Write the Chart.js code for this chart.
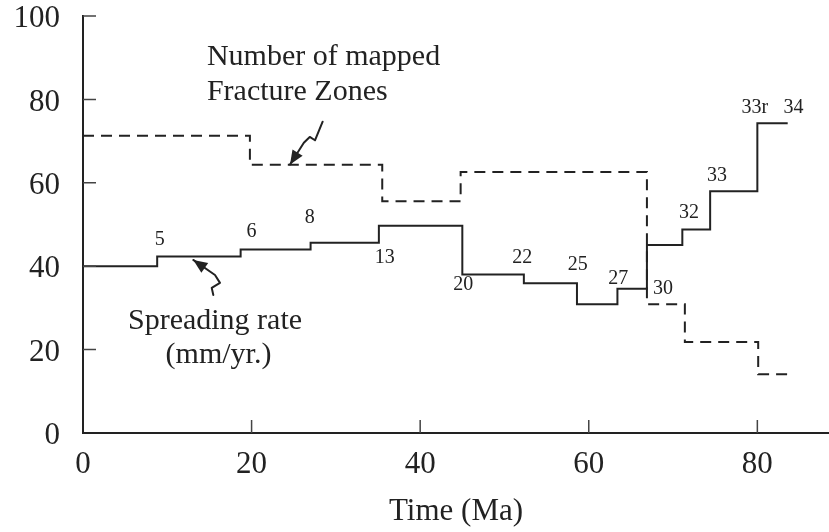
<!DOCTYPE html>
<html>
<head>
<meta charset="utf-8">
<script src="https://cdn.jsdelivr.net/npm/chart.js@4.4.1/dist/chart.umd.min.js"></script>
<style>
  html, body { margin: 0; padding: 0; background: #fff; }
  #wrap { width: 829px; height: 532px; }
</style>
</head>
<body>
<div id="wrap"><canvas id="rateChart"></canvas></div>
<script>
// spreading rate history (mm/yr) - each value holds until the next age
const rateAges = [0, 8.8, 18.7, 27.0, 35.1, 45.0, 52.3, 58.6, 63.4, 66.9, 71.1, 74.4, 80.0, 83.6];
const rateValues = [40, 42.3, 44.0, 45.6, 49.7, 38.0, 35.9, 30.9, 34.6, 45.1, 48.8, 58.0, 74.3, 74.3];

// number of mapped fracture zones
const fzAges = [0, 19.8, 35.5, 44.8, 66.9, 71.4, 80.1, 84.3];
const fzCounts = [71.3, 64.3, 55.6, 62.6, 30.9, 21.8, 14.1, 14.1];

const xTicks = [0, 20, 40, 60, 80];
const yTicks = [0, 20, 40, 60, 80, 100];

// magnetic anomaly (chron) labels along the rate curve
const chronNames = ['5', '6', '8', '13', '20', '22', '25', '27', '30', '32', '33', '33r', '34'];
const chronAges = [9.1, 20.0, 26.9, 35.8, 45.1, 52.1, 58.7, 63.5, 68.8, 71.9, 75.2, 79.7, 84.3];
const chronRates = [46.3, 48.2, 51.6, 42.0, 35.5, 42.0, 40.3, 36.9, 34.5, 52.8, 61.6, 77.9, 77.9];

const serif = '"Liberation Serif", "Times New Roman", Times, serif';
const ink = '#222';

function toPoints(xs, ys) {
  return xs.map((a, i) => ({ x: a, y: ys[i] }));
}

function arrow(ctx, pts) {
  ctx.beginPath();
  ctx.moveTo(pts[0][0], pts[0][1]);
  for (let i = 1; i < pts.length; i++) ctx.lineTo(pts[i][0], pts[i][1]);
  ctx.stroke();
  const tip = pts[pts.length - 1], prev = pts[pts.length - 2];
  const ang = Math.atan2(tip[1] - prev[1], tip[0] - prev[0]);
  const len = 14, half = 6;
  const bx = tip[0] - len * Math.cos(ang), by = tip[1] - len * Math.sin(ang);
  ctx.beginPath();
  ctx.moveTo(tip[0], tip[1]);
  ctx.lineTo(bx + half * Math.sin(ang), by - half * Math.cos(ang));
  ctx.lineTo(bx - half * Math.sin(ang), by + half * Math.cos(ang));
  ctx.closePath();
  ctx.fill();
}

const annotations = {
  id: 'annotations',
  afterDatasetsDraw(chart) {
    const { ctx, scales: { x, y } } = chart;
    const px = (a, v) => [x.getPixelForValue(a), y.getPixelForValue(v)];
    ctx.save();

    // tick marks point into the plot
    ctx.strokeStyle = '#444';
    ctx.lineWidth = 1.5;
    ctx.beginPath();
    xTicks.slice(1).forEach(t => {
      const p = x.getPixelForValue(t);
      ctx.moveTo(p, y.bottom);
      ctx.lineTo(p, y.bottom - 13);
    });
    yTicks.slice(1).forEach(t => {
      const p = y.getPixelForValue(t);
      ctx.moveTo(x.left, p);
      ctx.lineTo(x.left + 13, p);
    });
    ctx.stroke();

    ctx.fillStyle = ink;
    ctx.strokeStyle = ink;

    // chron numbers
    ctx.font = '20px ' + serif;
    ctx.textAlign = 'center';
    ctx.textBaseline = 'middle';
    chronNames.forEach((n, i) => {
      const [cx, cy] = px(chronAges[i], chronRates[i]);
      ctx.fillText(n, cx, cy);
    });

    // series captions
    ctx.font = '30px ' + serif;
    ctx.textBaseline = 'alphabetic';
    ctx.textAlign = 'left';
    let p = px(14.7, 88.25);
    ctx.fillText('Number of mapped', p[0], p[1]);
    p = px(14.7, 79.86);
    ctx.fillText('Fracture Zones', p[0], p[1]);
    ctx.textAlign = 'center';
    p = px(15.66, 24.94);
    ctx.fillText('Spreading rate', p[0], p[1]);
    p = px(16.07, 16.79);
    ctx.fillText('(mm/yr.)', p[0], p[1]);

    // squiggly pointers
    ctx.lineWidth = 2;
    ctx.lineJoin = 'round';
    ctx.lineCap = 'round';
    arrow(ctx, [px(28.43, 74.65), px(27.52, 70.2), px(26.9, 71.0), px(26.2, 69.6), px(24.56, 64.4)]);
    arrow(ctx, [px(15.46, 33.1), px(15.27, 34.8), px(16.25, 36.0), px(15.66, 37.9), px(13.08, 41.5)]);

    ctx.restore();
  }
};

new Chart(document.getElementById('rateChart'), {
  type: 'line',
  data: {
    datasets: [
      {
        label: 'Number of mapped Fracture Zones',
        data: toPoints(fzAges, fzCounts),
        stepped: 'before',
        borderColor: ink,
        borderWidth: 2,
        borderDash: [11, 7],
        pointRadius: 0,
        fill: false
      },
      {
        label: 'Spreading rate (mm/yr.)',
        data: toPoints(rateAges, rateValues),
        stepped: 'before',
        borderColor: ink,
        borderWidth: 2,
        pointRadius: 0,
        fill: false
      }
    ]
  },
  options: {
    responsive: true,
    maintainAspectRatio: false,
    animation: false,
    layout: { padding: { top: 16, right: 0, bottom: 0, left: 0 } },
    plugins: {
      legend: { display: false },
      tooltip: { enabled: false }
    },
    scales: {
      x: {
        type: 'linear',
        min: 0,
        max: 88.5,
        afterBuildTicks: s => { s.ticks = xTicks.map(v => ({ value: v })); },
        afterFit: s => { s.height = 99; s.paddingLeft = 0; s.paddingRight = 0; },
        grid: { display: false, drawTicks: false },
        border: { display: true, color: ink, width: 2 },
        ticks: { color: ink, padding: 13, font: { family: serif, size: 31 } },
        title: {
          display: true,
          text: 'Time (Ma)',
          color: ink,
          padding: { top: 0, bottom: 2 },
          font: { family: serif, size: 31 }
        }
      },
      y: {
        min: 0,
        max: 100,
        afterBuildTicks: s => { s.ticks = yTicks.map(v => ({ value: v })); },
        afterFit: s => { s.width = 83; s.paddingTop = 0; s.paddingBottom = 0; },
        grid: { display: false, drawTicks: false },
        border: { display: true, color: ink, width: 2 },
        ticks: { color: ink, padding: 23, labelOffset: 3, font: { family: serif, size: 31, lineHeight: 1 } }
      }
    }
  },
  plugins: [annotations]
});
</script>
</body>
</html>
